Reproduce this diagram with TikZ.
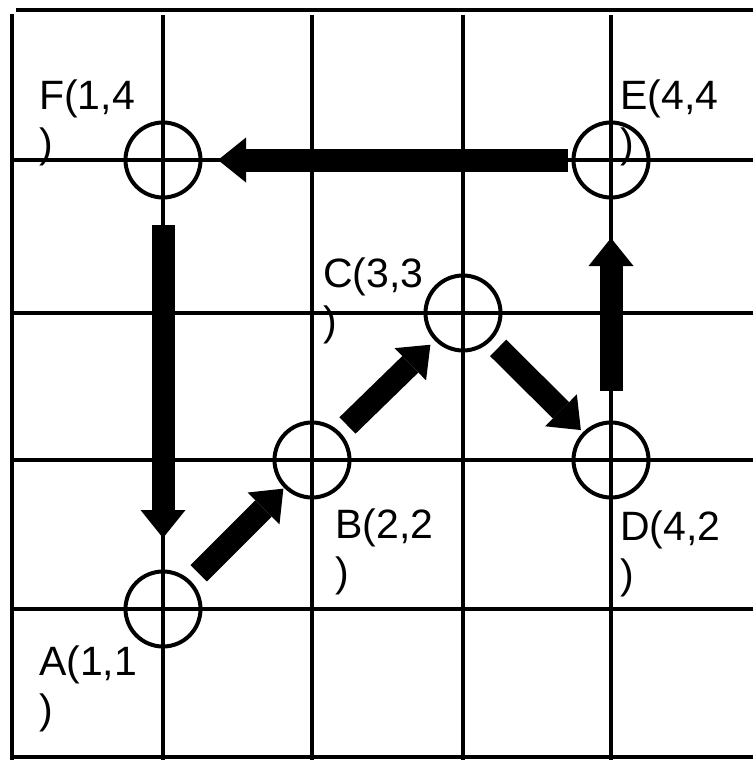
\documentclass[tikz,border=0pt]{standalone}
\usepackage{fontspec}
\setmainfont{Liberation Sans}
\usetikzlibrary{arrows.meta}
\begin{document}
\begin{tikzpicture}[x=1pt,y=-1pt,
  gridline/.style={line width=4.5pt},
  pnt/.style={circle,draw,line width=4pt,minimum size=75pt,inner sep=0pt,outer sep=0pt},
  lbl/.style={anchor=base west,inner sep=0pt,align=left,font=\fontsize{41}{48}\selectfont},
  bigarrow/.style={line width=23pt,-{Triangle[width=45pt,length=28pt,line width=0pt]}}]
\useasboundingbox (0,0) rectangle (753,760);
% grid
\draw[gridline] (16,10) -- (753,10);
\draw[gridline] (12,14) -- (12,760);
\foreach \x in {163,312,463,611} \draw[gridline] (\x,15) -- (\x,760);
\foreach \y in {160,313,460,609} \draw[gridline] (14,\y) -- (753,\y);
\draw[gridline] (12,757) -- (753,757);
% points
\node[pnt] (A) at (163,609) {};
\node[pnt] (B) at (312,460) {};
\node[pnt] (C) at (463,313) {};
\node[pnt] (D) at (611,460) {};
\node[pnt] (E) at (611,160) {};
\node[pnt] (F) at (163,160) {};
% labels (anchor = baseline of the second line)
\node[lbl] (Fl) at (39,157) {F(1,4\\)};
\node[lbl] (El) at (620,157) {E(4,4\\)};
\node[lbl] (Cl) at (323,335) {C(3,3\\)};
\node[lbl] (Bl) at (335,586) {B(2,2\\)};
\node[lbl] (Dl) at (620,588) {D(4,2\\)};
\node[lbl] (Al) at (39,723) {A(1,1\\)};
% arrows
\draw[bigarrow,shorten <=27.5pt,shorten >=33.5pt] (F) -- (A);
\draw[bigarrow,shorten <=13pt,shorten >=3pt] (A) -- (B);
\draw[bigarrow,shorten <=12pt,shorten >=8pt] (B) -- (C);
\draw[bigarrow,shorten <=12pt,shorten >=5pt] (C) -- (D);
\draw[bigarrow,shorten <=31.5pt,shorten >=40.5pt] (D) -- (E);
\draw[bigarrow,shorten <=5.5pt,shorten >=17.5pt] (E) -- (F);
\end{tikzpicture}
\end{document}
